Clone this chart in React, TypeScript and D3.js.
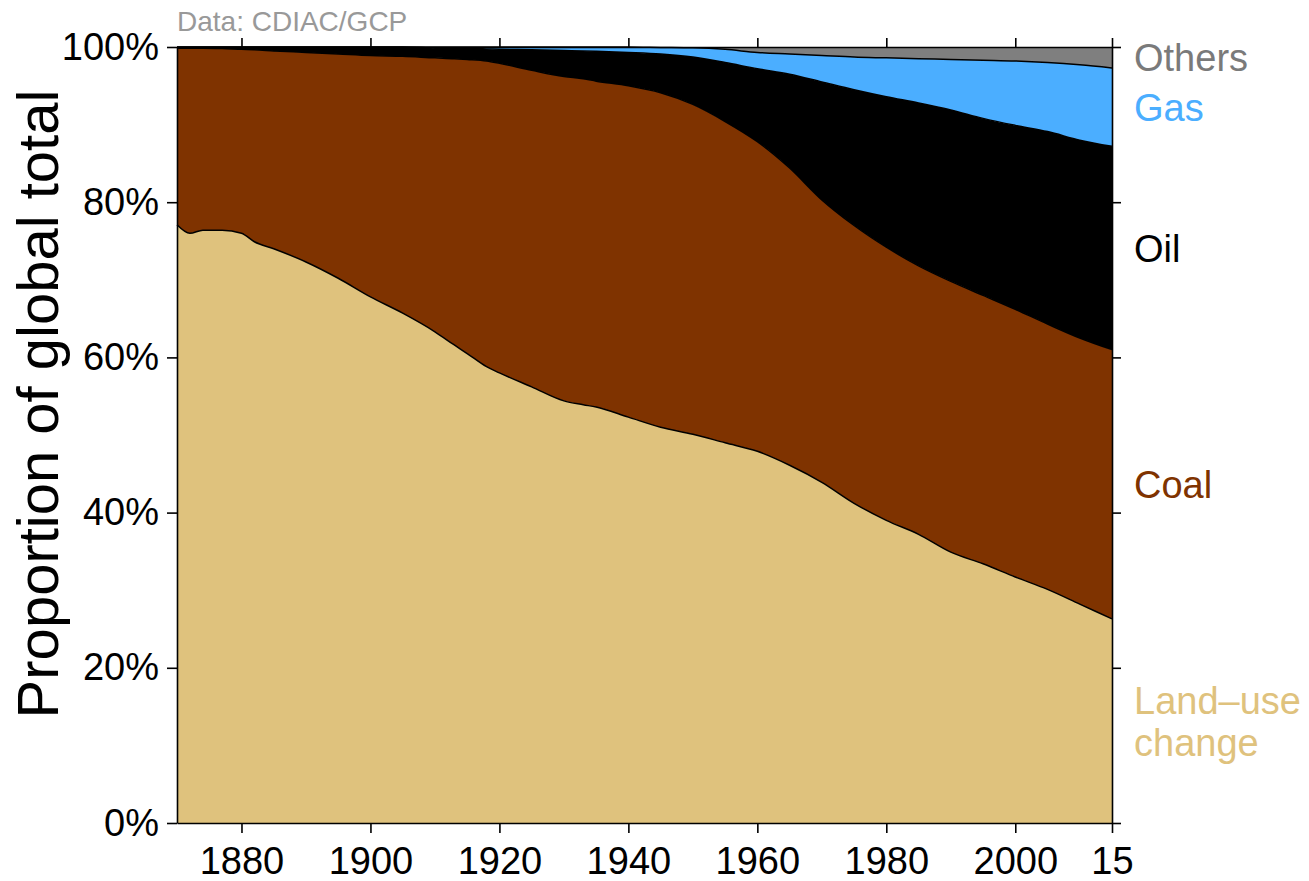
import React, { useEffect, useRef } from 'react'
import * as d3 from 'd3'

// shares of global CO2 emissions (%)
const years = [1870, 1872, 1874, 1877, 1880, 1882, 1885, 1890, 1895, 1900, 1905, 1910, 1913, 1915, 1918, 1920, 1925, 1930, 1933, 1935, 1940, 1945, 1950, 1955, 1960, 1965, 1970, 1975, 1980, 1985, 1990, 1995, 2000, 2005, 2010, 2015];
const landUse = [77.1, 76.0, 76.4, 76.4, 76.0, 74.9, 74.0, 72.3, 70.2, 67.8, 65.7, 63.3, 61.6, 60.5, 58.8, 58.0, 56.2, 54.4, 53.9, 53.6, 52.3, 51.0, 50.1, 49.0, 47.9, 46.1, 43.9, 41.2, 39.0, 37.2, 34.9, 33.4, 31.7, 30.1, 28.2, 26.3];
const coal = [22.75, 23.85, 23.45, 23.4, 23.7, 24.75, 25.5, 27.0, 28.9, 31.1, 33.1, 35.3, 36.9, 37.9, 39.4, 39.9, 40.8, 41.8, 42.0, 42.0, 42.7, 43.1, 42.5, 41.4, 39.9, 38.3, 36.4, 35.8, 35.2, 34.6, 34.9, 34.6, 34.5, 34.2, 34.3, 34.7];
const oil = [0.15, 0.15, 0.15, 0.2, 0.3, 0.35, 0.5, 0.7, 0.9, 1.1, 1.2, 1.25, 1.3, 1.4, 1.55, 1.8, 2.65, 3.35, 3.6, 3.85, 4.3, 5.0, 6.1, 7.6, 9.4, 12.1, 15.2, 17.5, 19.4, 21.0, 22.1, 22.8, 23.7, 24.8, 25.5, 26.2];
const gas = [0, 0, 0, 0, 0, 0, 0, 0, 0, 0, 0, 0.15, 0.2, 0.2, 0.25, 0.3, 0.35, 0.45, 0.5, 0.55, 0.7, 0.85, 1.2, 1.7, 2.1, 2.6, 3.4, 4.2, 5.0, 5.7, 6.5, 7.5, 8.3, 8.9, 9.7, 10.1];
const others = [0, 0, 0, 0, 0, 0, 0, 0, 0, 0, 0, 0, 0, 0, 0, 0, 0, 0, 0, 0, 0, 0.05, 0.1, 0.3, 0.7, 0.9, 1.1, 1.3, 1.4, 1.5, 1.6, 1.7, 1.8, 2.0, 2.3, 2.7];

const seriesKeys = ['land', 'coal', 'oil', 'gas', 'others'];
const seriesLabels = [['Land–use', 'change'], ['Coal'], ['Oil'], ['Gas'], ['Others']];
const seriesColors = ['#dfc27d', '#7f3300', '#000000', '#4baeff', '#7f7f7f'];
const labelColors = ['#dfc27d', '#7f3300', '#000000', '#4baeff', '#7a7a7a'];

const xTicks = [1880, 1900, 1920, 1940, 1960, 1980, 2000, 2015];
const yTicks = [0, 0.2, 0.4, 0.6, 0.8, 1];

const W = 1309;
const H = 881;
const FONT = '"Liberation Sans", Arial, Helvetica, sans-serif';

export default function App() {
  const svgRef = useRef<SVGSVGElement>(null);

  useEffect(() => {
    if (!svgRef.current) return;
    const svg = d3.select(svgRef.current);
    svg.selectAll('*').remove();

    const margin = { top: 47, right: 197, bottom: 58, left: 177 };

    const rows = years.map((year, i) => ({
      year,
      land: landUse[i],
      coal: coal[i],
      oil: oil[i],
      gas: gas[i],
      others: others[i]
    }));

    const layers = d3.stack<any>()
      .keys(seriesKeys)
      .offset(d3.stackOffsetExpand)(rows);

    const x = d3.scaleLinear()
      .domain([1870, 2015])
      .range([margin.left, W - margin.right]);

    const y = d3.scaleLinear()
      .domain([0, 1])
      .range([H - margin.bottom, margin.top]);

    const area = d3.area<any>()
      .x(d => x(d.data.year))
      .y0(d => y(d[0]))
      .y1(d => y(d[1]))
      .curve(d3.curveMonotoneX);

    const topLine = d3.line<any>()
      .x(d => x(d.data.year))
      .y(d => y(d[1]))
      .curve(d3.curveMonotoneX);

    // stacked areas
    svg.append('g')
      .selectAll('path')
      .data(layers)
      .enter()
      .append('path')
      .attr('d', area)
      .attr('fill', (d, i) => seriesColors[i]);

    // black outlines between layers
    svg.append('g')
      .selectAll('path')
      .data(layers.slice(0, 4))
      .enter()
      .append('path')
      .attr('d', topLine)
      .attr('fill', 'none')
      .attr('stroke', '#000')
      .attr('stroke-width', 1.5);

    // axes, ticks outside on all four sides
    const styleAxis = (g: d3.Selection<SVGGElement, unknown, null, undefined>) => {
      g.attr('font-family', FONT).attr('font-size', 38);
      g.selectAll('.domain').attr('stroke', '#000').attr('stroke-width', 1.6);
      g.selectAll('.tick line').attr('stroke', '#000').attr('stroke-width', 1.6);
      g.selectAll('.tick text').attr('fill', '#000');
    };

    svg.append('g')
      .attr('transform', `translate(0,${H - margin.bottom})`)
      .call(d3.axisBottom(x)
        .tickValues(xTicks)
        .tickSize(10)
        .tickSizeOuter(0)
        .tickPadding(14)
        .tickFormat(d => (d === 2015 ? '15' : String(d))))
      .call(styleAxis);

    svg.append('g')
      .attr('transform', `translate(0,${margin.top})`)
      .call(d3.axisTop(x).tickValues(xTicks).tickSize(9).tickSizeOuter(0).tickFormat(() => ''))
      .call(styleAxis);

    svg.append('g')
      .attr('transform', `translate(${margin.left},0)`)
      .call(d3.axisLeft(y)
        .tickValues(yTicks)
        .tickSize(10)
        .tickSizeOuter(0)
        .tickPadding(8)
        .tickFormat(d3.format('.0%')))
      .call(styleAxis);

    svg.append('g')
      .attr('transform', `translate(${W - margin.right},0)`)
      .call(d3.axisRight(y).tickValues(yTicks).tickSize(9).tickSizeOuter(0).tickFormat(() => ''))
      .call(styleAxis);

    // y axis title
    svg.append('text')
      .attr('transform', 'translate(58,404) rotate(-90)')
      .attr('text-anchor', 'middle')
      .attr('font-family', FONT)
      .attr('font-size', 58)
      .attr('fill', '#000')
      .text('Proportion of global total');

    // source note
    svg.append('text')
      .attr('x', margin.left)
      .attr('y', 31)
      .attr('font-family', FONT)
      .attr('font-size', 28)
      .attr('fill', '#999')
      .text('Data: CDIAC/GCP');

    // series labels at the right, centred on each band's last value
    const lineH = 42;
    layers.forEach((layer, i) => {
      const last = layer[layer.length - 1];
      const mid = y((last[0] + last[1]) / 2);
      const lines = seriesLabels[i];
      const t = svg.append('text')
        .attr('font-family', FONT)
        .attr('font-size', 38)
        .attr('fill', labelColors[i]);
      lines.forEach((s, j) => {
        t.append('tspan')
          .attr('x', W - margin.right + 22)
          .attr('y', mid + (j - (lines.length - 1) / 2) * lineH)
          .attr('dy', '0.36em')
          .text(s);
      });
    });
  }, []);

  return (
    <svg
      ref={svgRef}
      width={W}
      height={H}
      style={{ position: 'absolute', left: 0, top: 0, display: 'block', background: '#fff' }}
    />
  );
}
